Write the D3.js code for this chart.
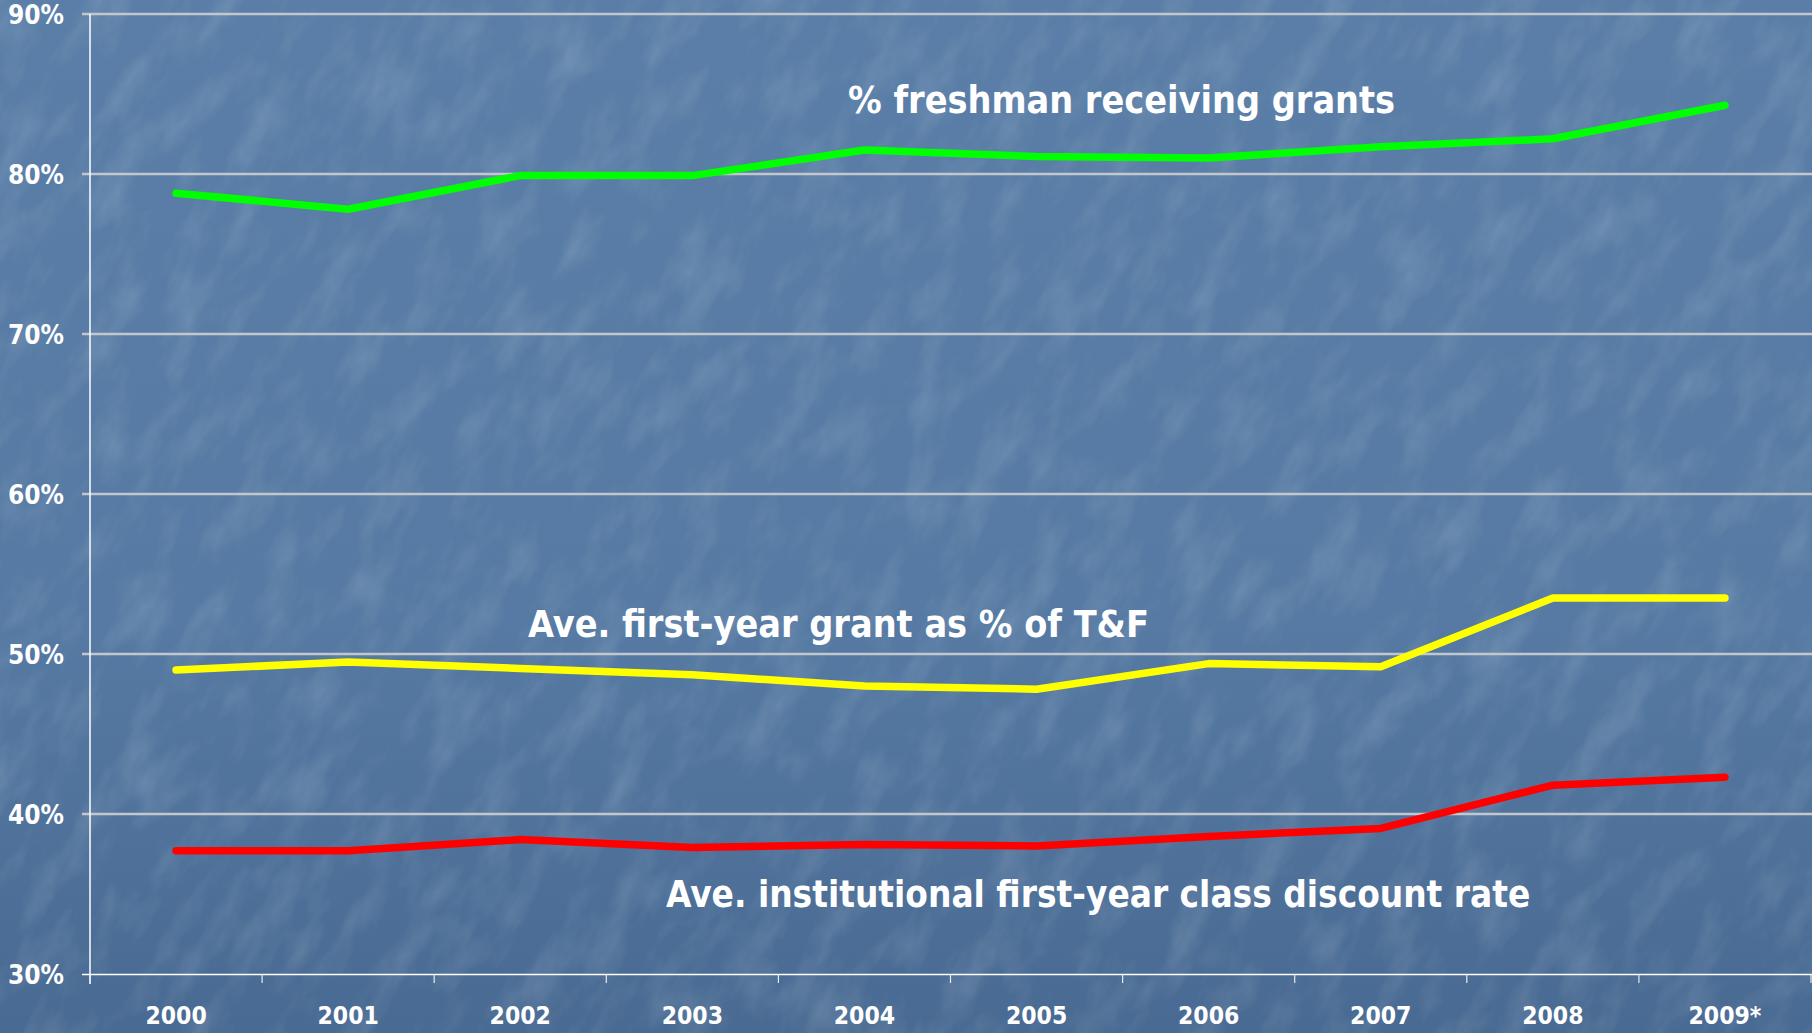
<!DOCTYPE html>
<html>
<head>
<meta charset="utf-8">
<script src="https://cdn.jsdelivr.net/npm/d3@7"></script>
<style>
  body { margin: 0; background: #52749c; overflow: hidden; }
  svg { display: block; }
  .lbl { font-family: "DejaVu Sans Condensed", "DejaVu Sans", sans-serif; font-stretch: condensed; fill: #fff; }
</style>
</head>
<body>
<div id="chart"></div>
<script>
// data
var years = ["2000", "2001", "2002", "2003", "2004", "2005", "2006", "2007", "2008", "2009*"];
var pctReceiving = [78.8, 77.8, 79.9, 79.9, 81.5, 81.1, 81.0, 81.7, 82.2, 84.3];
var avgGrant     = [49.0, 49.5, 49.1, 48.7, 48.0, 47.8, 49.4, 49.2, 53.5, 53.5];
var discountRate = [37.7, 37.7, 38.4, 37.9, 38.1, 38.0, 38.6, 39.1, 41.8, 42.3];
var yTicks = [30, 40, 50, 60, 70, 80, 90];

var series = [
  { name: "% freshman receiving grants", values: pctReceiving, color: "#00ff00", lx: 848, ly: 113, fs: 37.4 },
  { name: "Ave. first-year grant as % of T&F", values: avgGrant, color: "#ffff00", lx: 528, ly: 637, fs: 37.4 },
  { name: "Ave. institutional first-year class discount rate", values: discountRate, color: "#ff0000", lx: 666, ly: 907, fs: 36.6 }
];

var W = 1812, H = 1033;
var plotL = 90, plotR = 1811, plotT = 14, plotB = 974;

var svg = d3.select("#chart").append("svg")
    .attr("width", W)
    .attr("height", H);

var defs = svg.append("defs");
var grad = defs.append("linearGradient").attr("id", "bg").attr("x1", 0).attr("y1", 0).attr("x2", 0).attr("y2", 1);
grad.append("stop").attr("offset", "0%").attr("stop-color", "#5a7ea7");
grad.append("stop").attr("offset", "60%").attr("stop-color", "#567aa3");
grad.append("stop").attr("offset", "100%").attr("stop-color", "#496a92");

// faint mottled / streaky texture like the slide background
var filt = defs.append("filter").attr("id", "tex")
    .attr("x", 0).attr("y", 0).attr("width", 1).attr("height", 1);
filt.append("feTurbulence")
    .attr("type", "fractalNoise")
    .attr("baseFrequency", "0.014 0.03")
    .attr("numOctaves", 4)
    .attr("seed", 11);
filt.append("feColorMatrix")
    .attr("type", "matrix")
    .attr("values", "0 0 0 0 1  0 0 0 0 1  0 0 0 0 1  1.6 0 0 0 -0.7");

svg.append("rect").attr("width", W).attr("height", H).attr("fill", "url(#bg)");
svg.append("g")
    .attr("transform", "translate(" + W / 2 + "," + H / 2 + ") rotate(-60)")
  .append("rect")
    .attr("x", -1300).attr("y", -1300)
    .attr("width", 2600).attr("height", 2600)
    .attr("filter", "url(#tex)")
    .attr("opacity", 0.17);

var x = d3.scaleBand().domain(years).range([plotL, plotR]).padding(0);
var y = d3.scaleLinear().domain([30, 90]).range([plotB, plotT]);

// gridlines (they stick out past the axis as the y ticks)
svg.append("g").selectAll("line")
    .data(yTicks.slice(1))
    .enter().append("line")
    .attr("x1", plotL - 8)
    .attr("x2", W)
    .attr("y1", function(d){ return y(d); })
    .attr("y2", function(d){ return y(d); })
    .attr("stroke", "#c3c6cc")
    .attr("stroke-width", 2.5);

// y labels
var yAxis = d3.axisLeft(y)
    .tickValues(yTicks)
    .tickSize(0)
    .tickPadding(26)
    .tickFormat(function(d){ return d + "%"; });
var gy = svg.append("g").attr("transform", "translate(" + plotL + ",0)").call(yAxis);
gy.select(".domain").remove();
gy.selectAll("text")
    .attr("class", "lbl")
    .attr("font-size", 26)
    .attr("font-weight", "bold")
    .attr("dy", "0.36em");

// x labels
var xAxis = d3.axisBottom(x).tickSize(0).tickPadding(0);
var gx = svg.append("g").attr("transform", "translate(0," + plotB + ")").call(xAxis);
gx.select(".domain").remove();
gx.selectAll("text")
    .attr("class", "lbl")
    .attr("font-size", 24.5)
    .attr("font-weight", "bold")
    .attr("y", 50)
    .attr("dy", 0);

// axis lines + boundary ticks
svg.append("line")
    .attr("x1", plotL).attr("x2", plotL)
    .attr("y1", plotT).attr("y2", plotB + 10)
    .attr("stroke", "#fff").attr("stroke-width", 1.5);
svg.append("line")
    .attr("x1", plotL - 8).attr("x2", W)
    .attr("y1", plotB + 0.5).attr("y2", plotB + 0.5)
    .attr("stroke", "#fff").attr("stroke-width", 1.5);
svg.append("g").selectAll("line")
    .data(d3.range(years.length + 1))
    .enter().append("line")
    .attr("x1", function(i){ return plotL + i * x.step(); })
    .attr("x2", function(i){ return plotL + i * x.step(); })
    .attr("y1", plotB)
    .attr("y2", plotB + 9)
    .attr("stroke", "#e8ecf2")
    .attr("stroke-width", 1.2);

var line = d3.line()
    .x(function(d, i){ return x(years[i]) + x.bandwidth() / 2; })
    .y(function(d){ return y(d); });

svg.append("g").selectAll("path")
    .data(series)
    .enter().append("path")
    .attr("d", function(s){ return line(s.values); })
    .attr("fill", "none")
    .attr("stroke", function(s){ return s.color; })
    .attr("stroke-width", 7.5)
    .attr("stroke-linecap", "round")
    .attr("stroke-linejoin", "round");

svg.append("g").selectAll("text")
    .data(series)
    .enter().append("text")
    .attr("class", "lbl")
    .attr("x", function(s){ return s.lx; })
    .attr("y", function(s){ return s.ly; })
    .attr("font-size", function(s){ return s.fs; })
    .attr("font-weight", "bold")
    .text(function(s){ return s.name; });
</script>
</body>
</html>
